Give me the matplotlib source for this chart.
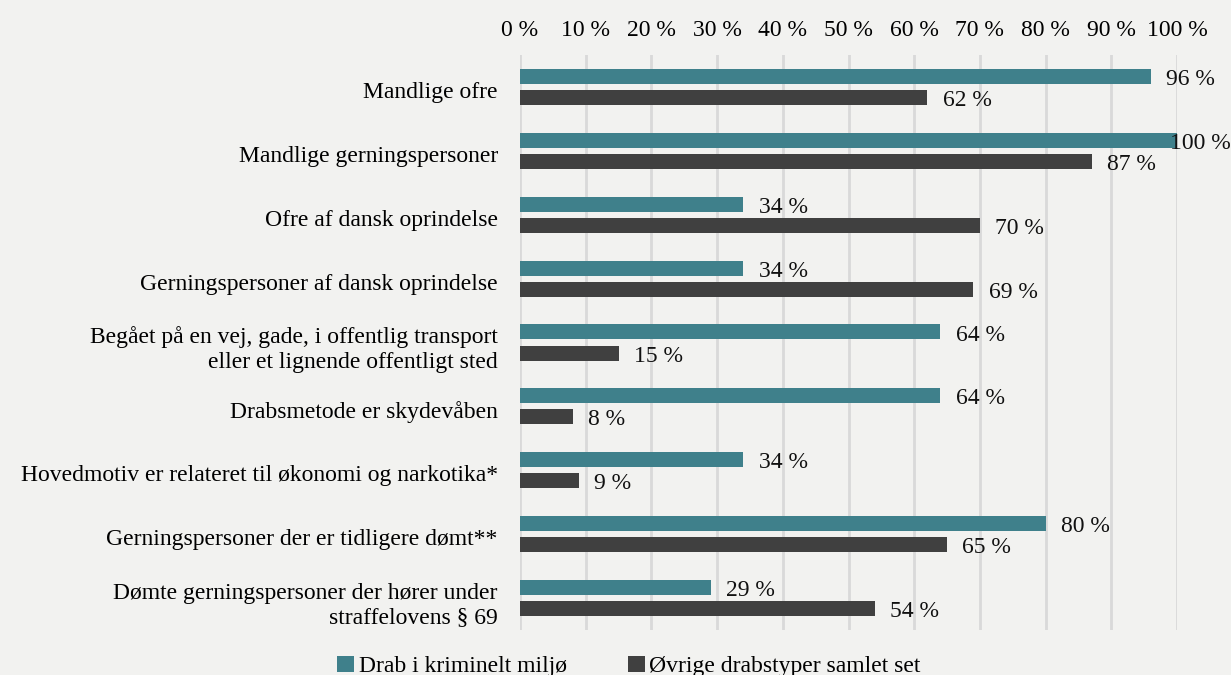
import numpy as np
import matplotlib.pyplot as plt
import matplotlib.transforms as mtransforms

plt.rcParams['font.family'] = ['Liberation Serif', 'DejaVu Serif']

# data
kategorier = [
    "Mandlige ofre",
    "Mandlige gerningspersoner",
    "Ofre af dansk oprindelse",
    "Gerningspersoner af dansk oprindelse",
    "Begået på en vej, gade, i offentlig transport\neller et lignende offentligt sted",
    "Drabsmetode er skydevåben",
    "Hovedmotiv er relateret til økonomi og narkotika*",
    "Gerningspersoner der er tidligere dømt**",
    "Dømte gerningspersoner der hører under\nstraffelovens § 69",
]
kriminelt = [96, 100, 34, 34, 64, 64, 34, 80, 29]
ovrige = [62, 87, 70, 69, 15, 8, 9, 65, 54]
serier = ["Drab i kriminelt miljø", "Øvrige drabstyper samlet set"]
farver = ["#3f808b", "#404040"]
ticks = list(range(0, 101, 10))

bg = "#f2f2f0"
fig = plt.figure(figsize=(12.31, 6.75), dpi=100, facecolor=bg)
ax = fig.add_axes([520/1231, 1-630/675, (1177-520)/1231, (630-55)/675])
ax.set_facecolor(bg)

y = np.arange(len(kategorier))
h = 0.235
off = 0.165
b1 = ax.barh(y - off, kriminelt, height=h, color=farver[0], label=serier[0], zorder=3)
b2 = ax.barh(y + off, ovrige, height=h, color=farver[1], label=serier[1], zorder=3)

for bars, vals in [(b1, kriminelt), (b2, ovrige)]:
    for b, v in zip(bars, vals):
        # 100 % label is pushed back so it stays inside the figure
        dx = -5 if v >= 100 else 11
        ax.annotate(f"{v} %", (v, b.get_y() + b.get_height()/2), xytext=(dx, -2.2),
                    textcoords="offset points", ha="left", va="center", fontsize=17,
                    color="#111111", annotation_clip=False, zorder=4)

ax.set_xlim(0, 100)
ax.set_ylim(len(kategorier) - 0.5, -0.5)
ax.set_xticks(ticks)
ax.set_xticklabels([f"{t} %" for t in ticks], fontsize=17)
ax.xaxis.tick_top()
ax.tick_params(axis="x", length=0, pad=10)
ax.set_yticks(y)
ax.set_yticklabels(kategorier, fontsize=17, linespacing=1.2)
ax.tick_params(axis="y", length=0, pad=16)
# flyt kategoritekster lidt ned
ned = mtransforms.ScaledTranslation(0, -3/100, fig.dpi_scale_trans)
for lab in ax.get_yticklabels():
    lab.set_transform(lab.get_transform() + ned)
ax.grid(axis="x", color="#d9d9d9", linewidth=2, zorder=0)
for s in ax.spines.values():
    s.set_visible(False)

leg = fig.legend(loc="lower center", bbox_to_anchor=(0.511, -0.035), ncol=2, frameon=False,
                 fontsize=17, handlelength=0.7, handleheight=0.7, handletextpad=0.2,
                 columnspacing=2.6)

fig.savefig("out.png", dpi=100, facecolor=bg)
